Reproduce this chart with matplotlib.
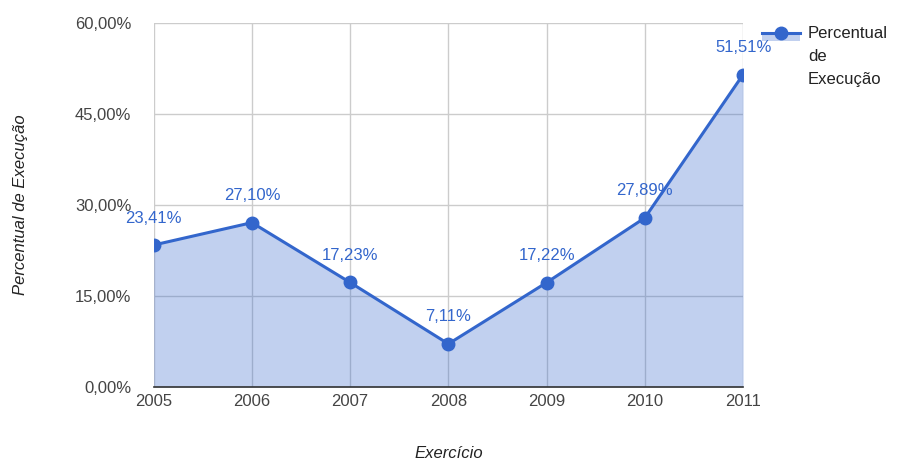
import matplotlib.pyplot as plt
from matplotlib.ticker import FuncFormatter

# data
years = [2005, 2006, 2007, 2008, 2009, 2010, 2011]
values = [23.41, 27.10, 17.23, 7.11, 17.22, 27.89, 51.51]
yticks = [0, 15, 30, 45, 60]

blue = '#3366cc'
plt.rcParams['font.family'] = ['Liberation Sans', 'DejaVu Sans']

fig = plt.figure(figsize=(9.04, 4.66), dpi=100)
ax = fig.add_axes([0.170, 0.1695, 0.652, 0.781])

ax.fill_between(years, values, 0, color=blue, alpha=0.3, linewidth=0)
ax.plot(years, values, color=blue, linewidth=2.2, marker='o', markersize=9, zorder=3)

for x, v in zip(years, values):
    ax.annotate(('%.2f' % v).replace('.', ',') + '%', (x, v), xytext=(0, 14),
                textcoords='offset points', ha='center', va='bottom',
                color=blue, fontsize=12)

ax.set_xlim(years[0], years[-1])
ax.set_ylim(0, 60)
ax.set_xticks(years)
ax.set_yticks(yticks)
ax.yaxis.set_major_formatter(FuncFormatter(lambda v, p: ('%.2f' % v).replace('.', ',') + '%'))
ax.grid(True, color='#cccccc', linewidth=1)
ax.set_axisbelow(True)
for s in ['top', 'right', 'left']:
    ax.spines[s].set_visible(False)
ax.spines['bottom'].set_color('#333333')
ax.spines['bottom'].set_linewidth(1.2)
ax.tick_params(length=0, labelsize=12, labelcolor='#444444', pad=5)
ax.tick_params(axis='y', pad=16)

ax.set_xlabel('Exercício', style='italic', fontsize=12, color='#222222', labelpad=27)
ax.set_ylabel('Percentual de Execução', style='italic', fontsize=12, color='#222222', labelpad=34)

# legend drawn by hand in figure coords
ly = 1 - 33 / 466
fig.patches.append(plt.Rectangle((762 / 904, ly - 8 / 466), 38 / 904, 8 / 466, transform=fig.transFigure,
                                 facecolor=blue, alpha=0.3, linewidth=0))
fig.lines.append(plt.Line2D([762 / 904, 800 / 904], [ly, ly], transform=fig.transFigure,
                            color=blue, linewidth=2.2))
fig.lines.append(plt.Line2D([781 / 904], [ly], transform=fig.transFigure,
                            color=blue, marker='o', markersize=9))
fig.text(808 / 904, 1 - 26 / 466, 'Percentual\nde\nExecução', va='top', ha='left',
         fontsize=12, color='#222222', linespacing=1.65)

fig.savefig('out.png', dpi=100)
